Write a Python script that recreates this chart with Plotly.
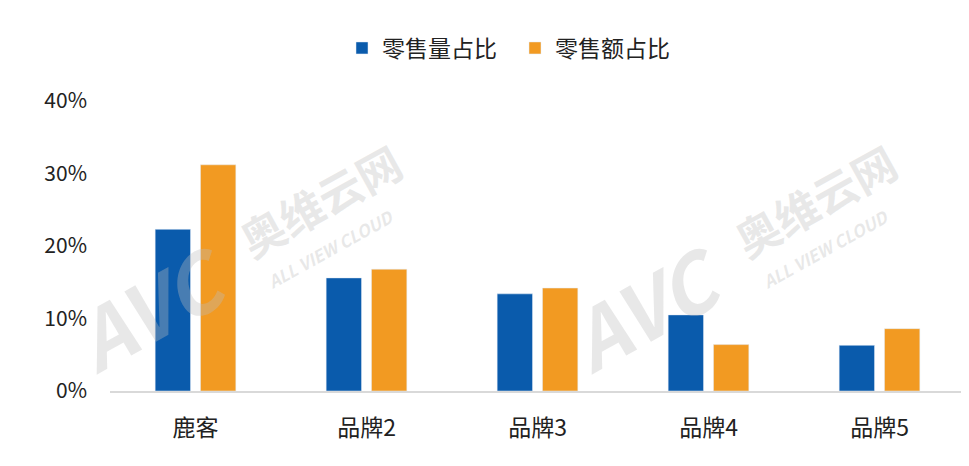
import plotly.graph_objects as go

categories = ["鹿客", "品牌2", "品牌3", "品牌4", "品牌5"]
volume_share = [0.223, 0.156, 0.134, 0.105, 0.063]
value_share = [0.312, 0.168, 0.142, 0.064, 0.086]
series_names = ["零售量占比", "零售额占比"]
y_ticks = [0, 0.1, 0.2, 0.3, 0.4]
y_tick_labels = ["0%", "10%", "20%", "30%", "40%"]

BLUE = "#0A5BAC"
ORANGE = "#F29A22"
FONT = "Noto Sans CJK SC, Noto Sans, sans-serif"

W, H = 969, 466
OFF = 8  # page body margin
# plot area in screen pixels
SX0, SX1, SY0, SY1 = 110, 965, 101, 391
L = SX0 - OFF
R = W - (SX1 - OFF)
T = SY0 - OFF
B = H - (SY1 - OFF)

fig = go.Figure()
fig.add_trace(go.Bar(x=categories, y=volume_share, name=series_names[0], marker_color=BLUE))
fig.add_trace(go.Bar(x=categories, y=value_share, name=series_names[1], marker_color=ORANGE))


def px2paper(px, py):
    return (px - SX0) / (SX1 - SX0), (SY1 - py) / (SY1 - SY0)


wm_color = "rgba(190,190,190,0.35)"
annotations = []
for cx in (0, 495):
    for text, (px, py), size in [
        ("<b><i>AVC</i></b>", (150 + cx, 305), 80),
        ("<b>奥维云网</b>", (320 + cx, 200), 44),
        ("<b><i>ALL VIEW CLOUD</i></b>", (330 + cx, 248), 17),
    ]:
        ax, ay = px2paper(px, py)
        annotations.append(dict(
            x=ax, y=ay, xref="paper", yref="paper", text=text, showarrow=False,
            textangle=-29, font=dict(size=size, color=wm_color, family=FONT),
            xanchor="center", yanchor="middle",
        ))

lx, ly = px2paper(515, 48)

fig.update_layout(
    width=W, height=H,
    margin=dict(l=L, r=R, t=T, b=B, autoexpand=False),
    plot_bgcolor="white", paper_bgcolor="white",
    font=dict(family=FONT, size=21, color="#222222"),
    barmode="group", bargap=0.47, bargroupgap=0.22,
    showlegend=True,
    legend=dict(orientation="h", x=lx, xanchor="center", y=ly, yanchor="middle",
                font=dict(size=23, color="#222222"), itemclick=False,
                entrywidth=128, entrywidthmode="pixels"),
    annotations=annotations,
    xaxis=dict(showline=True, linecolor="#D9D9D9", linewidth=1.5, ticks="",
               showgrid=False, ticklabelstandoff=16, tickfont=dict(size=23)),
    yaxis=dict(range=[0, 0.4], tickvals=y_ticks, ticktext=y_tick_labels,
               showgrid=False, zeroline=False, showline=False,
               ticklabelstandoff=22, tickfont=dict(size=21)),
)

fig.write_html("out.html")
